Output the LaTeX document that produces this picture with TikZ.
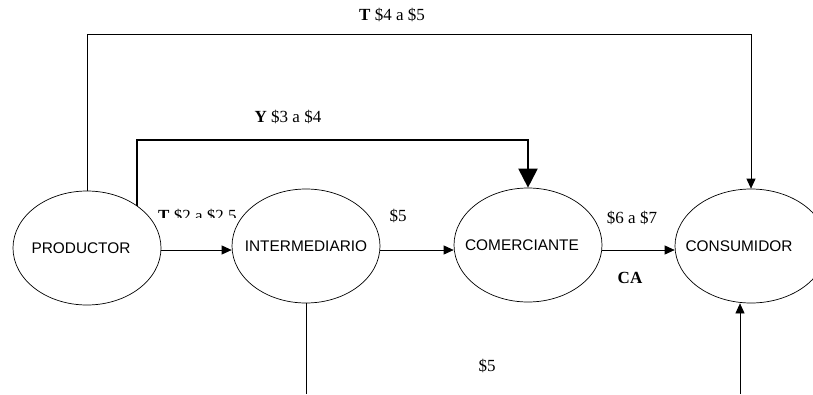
\documentclass[tikz,border=0pt]{standalone}
\usepackage{fontspec}
\setmainfont{Liberation Serif}
\setsansfont{Liberation Sans}
\usetikzlibrary{shapes.geometric,arrows.meta}
\begin{document}
\begin{tikzpicture}[x=1pt,y=-1pt,
  actor/.style={draw,ellipse,fill=white,minimum width=148pt,minimum height=114pt,inner sep=0pt,line width=0.7pt},
  lab/.style={font=\fontsize{17}{18}\selectfont,inner sep=0pt},
  conn/.style={line width=0.7pt},
  tip/.style={-{Triangle[length=10pt,width=9pt]}},
  bigtip/.style={-{Triangle[length=19pt,width=19pt]}}]
\useasboundingbox (0,0) rectangle (813,394);
% clipped label
\begin{scope}
\clip (150,200) rectangle (245,217);
\node[lab,anchor=base west] (t2) at (158,221) {\textbf{T} \$2 a \$2.5};
\end{scope}
% nodes
\node[actor,label={[font=\sffamily\fontsize{15.4}{16}\selectfont,xshift=-6pt]center:PRODUCTOR}] (prod) at (87,248) {};
\node[actor,label={[font=\sffamily\fontsize{15.4}{16}\selectfont]center:INTERMEDIARIO}] (inter) at (306,246) {};
\node[actor,label={[font=\sffamily\fontsize{15.4}{16}\selectfont,xshift=-6pt]center:COMERCIANTE}] (com) at (528,245) {};
\node[actor,minimum width=152pt,label={[font=\sffamily\fontsize{15.4}{16}\selectfont,xshift=-12pt]center:CONSUMIDOR}] (cons) at (751,246) {};
% coordinates
\coordinate (b1) at (306,394);
\coordinate (b2) at (740,394);
% connectors
\draw[conn,tip] (prod.north) -- ++(0,-156) -| (cons.north);
\draw[line width=2pt,bigtip] (prod.40) -- (prod.40 |- 0,140) -| (com.north);
\draw[conn,tip] (prod.east |- 0,250) -- (inter.west |- 0,250);
\draw[conn,tip] (inter.east |- 0,250) -- (com.west |- 0,250);
\draw[conn,tip] (com.east |- 0,250) -- (cons.west |- 0,250);
\draw[conn] (inter.south) -- (b1);
\draw[conn,tip] (b2) -- (b2 |- cons.south);
% labels
\node[lab] (l1) at (392,15) {\textbf{T} \$4 a \$5};
\node[lab] (l2) at (288,117) {\textbf{Y} \$3 a \$4};
\node[lab] (l3) at (398,216) {\$5};
\node[lab] (l4) at (632,218) {\$6 a \$7};
\node[lab] (l5) at (630,278) {\textbf{CA}};
\node[lab] (l6) at (487,366) {\$5};
\end{tikzpicture}
\end{document}
